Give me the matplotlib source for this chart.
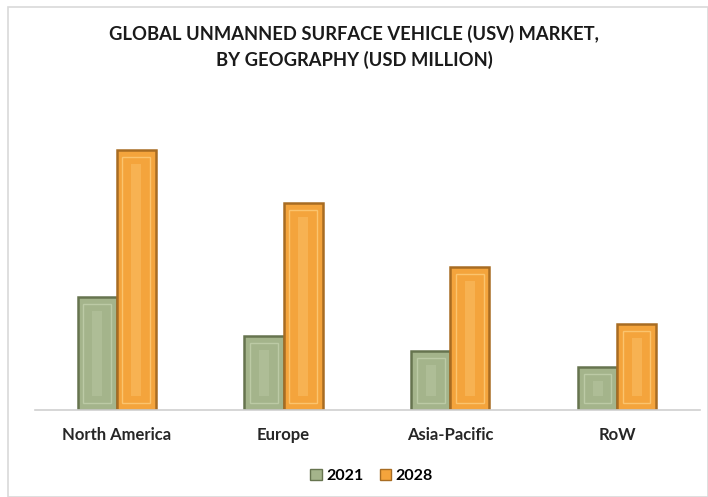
import numpy as np
import matplotlib.pyplot as plt
from matplotlib.patches import Rectangle, Patch

# data (USD million, relative scale)
regions = ["North America", "Europe", "Asia-Pacific", "RoW"]
years = ["2021", "2028"]
usv_2021 = [113, 74, 59, 43]
usv_2028 = [260, 207, 143, 86]

plt.rcParams["font.family"] = ["Lato", "DejaVu Sans"]

fig = plt.figure(figsize=(7.08, 4.97), dpi=100)
ax = fig.add_axes([0.049, 0.175, 0.94, 0.624])

# light frame around the picture
fig.patches.append(Rectangle((0.011, 0.0), 0.989, 0.986, transform=fig.transFigure,
                             fill=False, edgecolor="#d9d9d9", linewidth=1.2))

x = np.arange(len(regions))
w = 0.234
styles = [
    ("#a4b48b", "#66744f", "#bccaa5"),   # 2021 green
    ("#f4a43c", "#a86c22", "#fbc46e"),   # 2028 orange
]

for i, (vals, (face, dark, light)) in enumerate(zip([usv_2021, usv_2028], styles)):
    pos = x + (i - 0.5) * w
    ax.bar(pos, vals, width=w, color=face, edgecolor=dark, linewidth=1.8, zorder=2)
    # bevel: inner panel and lighter centre strip
    inset_x = 0.035
    inset_y = 7
    ax.bar(pos, [v - 2 * inset_y for v in vals], bottom=inset_y, width=w - 2 * inset_x,
           color=face, edgecolor=light, linewidth=1.0, zorder=3)
    ax.bar(pos, [v - 4 * inset_y for v in vals], bottom=2 * inset_y, width=w * 0.25,
           color=light, alpha=0.45, linewidth=0, zorder=4)

ax.set_xlim(-0.491, 3.497)
ax.set_ylim(0, 310)
ax.set_xticks(x)
ax.set_xticklabels(regions, fontsize=12, fontweight="bold", color="#262626")
ax.tick_params(axis="x", length=0, pad=12)
ax.set_yticks([])
for s in ["top", "right", "left"]:
    ax.spines[s].set_visible(False)
ax.spines["bottom"].set_color("#d0d0d0")
ax.spines["bottom"].set_linewidth(1.2)

fig.text(0.5, 0.95, "GLOBAL UNMANNED SURFACE VEHICLE (USV) MARKET,\nBY GEOGRAPHY (USD MILLION)",
         ha="center", va="top", fontsize=13.2, fontweight="bold", color="#1a1a1a",
         linespacing=1.55)

handles = [Patch(facecolor=styles[0][0], edgecolor=styles[0][1]),
           Patch(facecolor=styles[1][0], edgecolor=styles[1][1])]
fig.legend(handles, years, loc="center", bbox_to_anchor=(0.525, 0.043), ncol=2, frameon=False,
           handlelength=0.7, handleheight=0.7, handletextpad=0.3, columnspacing=1.0,
           prop={"weight": "bold", "size": 11.5})

fig.savefig("out.png", dpi=100, facecolor="white")
